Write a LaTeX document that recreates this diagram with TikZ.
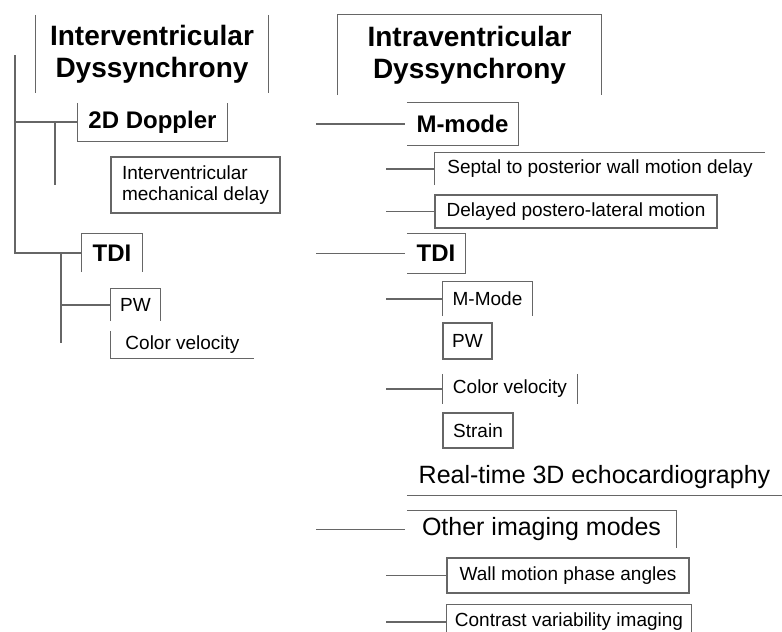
\documentclass[tikz,border=0pt]{standalone}
\usepackage{fontspec}
\setmainfont{Liberation Sans}
\usepackage{tikz}
\usetikzlibrary{positioning}
\tikzset{
  sm/.style={inner sep=0pt, font=\fontsize{19}{21}\selectfont, align=center},
  md/.style={inner sep=0pt, font=\fontsize{24}{28}\selectfont\bfseries, align=center},
  lg/.style={inner sep=0pt, font=\fontsize{25}{30}\selectfont, align=center},
  ttl/.style={inner sep=0pt, font=\fontsize{28}{32}\selectfont\bfseries, align=center},
  sz/.style 2 args={minimum width=#1, minimum height=#2},
  ln/.style={draw=black!60, line width=1.3pt},
  fbox/.style={ln}
}

\begin{document}
\begin{tikzpicture}[x=1pt, y=-1pt]
\useasboundingbox (0,0) rectangle (782,632);
% left tree
\node[ttl, sz={232pt}{78pt}] (titleL) at (152,54) {Interventricular\\Dyssynchrony};
\node[md, sz={149pt}{38pt}] (dopL) at (152.5,122) {2D Doppler};
\node[sm, sz={169pt}{56pt}, align=left, fbox] (mechL) at (195.5,185)
  {Interventricular\\mechanical delay};
\node[md, sz={60pt}{38pt}] (tdiL) at (112,253) {TDI};
\node[sm, sz={49pt}{32pt}] (pwL) at (135.5,305) {PW};
\node[sm, sz={143pt}{27pt}] (cvL) at (182.5,344.5) {Color velocity};
% right tree
\node[ttl, sz={263pt}{80pt}] (titleR) at (469.5,55) {Intraventricular\\Dyssynchrony};
\node[md, sz={111pt}{42pt}] (mmodeR) at (462.5,124) {M-mode};
\node[sm, sz={330pt}{32pt}] (septR) at (600,169) {Septal to posterior wall motion delay};
\node[sm, sz={282pt}{33pt}, fbox] (delayR) at (576,211.5) {Delayed postero-lateral motion};
\node[md, sz={58pt}{39pt}] (tdiR) at (436,253.5) {TDI};
\node[sm, sz={89pt}{34pt}] (mmR) at (487.5,299) {M-Mode};
\node[sm, sz={49pt}{36pt}, fbox] (pwR) at (467.5,341) {PW};
\node[sm, sz={134pt}{30pt}] (cvR) at (510,389) {Color velocity};
\node[sm, sz={70pt}{35pt}, fbox] (strainR) at (478,430.5) {Strain};
\node[lg, sz={375pt}{36pt}] (rt3d) at (594.5,477) {Real-time 3D echocardiography};
\node[lg, sz={269pt}{37pt}] (otherR) at (541.5,529.5) {Other imaging modes};
\node[sm, sz={242pt}{35pt}, fbox] (wallR) at (568,575.5) {Wall motion phase angles};
\node[sm, sz={244pt}{34pt}] (contR) at (569,622) {Contrast variability imaging};

% open box sides
\draw[ln] (titleL.north west) -- (titleL.south west);
\draw[ln] (titleL.north east) -- (titleL.south east);
\draw[ln] (dopL.north west) -- (dopL.south west) -- (dopL.south east) -- (dopL.north east);
\draw[ln] (tdiL.south west) -- (tdiL.north west) -- (tdiL.north east) -- (tdiL.south east);
\draw[ln] (pwL.south west) -- (pwL.north west) -- (pwL.north east) -- (pwL.south east);
\draw[ln] (cvL.north west) -- (cvL.south west) -- (cvL.south east);
\draw[ln] (titleR.south west) -- (titleR.north west) -- (titleR.north east) -- (titleR.south east);
\draw[ln] (mmodeR.north west) -- (mmodeR.north east) -- (mmodeR.south east) -- (mmodeR.south west);
\draw[ln] (septR.south west) -- (septR.north west) -- (septR.north east);
\draw[ln] (tdiR.north west) -- (tdiR.north east) -- (tdiR.south east) -- (tdiR.south west);
\draw[ln] (mmR.south west) -- (mmR.north west) -- (mmR.north east) -- (mmR.south east);
\draw[ln] (cvR.north west) -- (cvR.south west);
\draw[ln] (cvR.north east) -- (cvR.south east);
\draw[ln] (rt3d.south west) -- (rt3d.south east);
\draw[ln] (otherR.north west) -- (otherR.north east) -- (otherR.south east);
\draw[ln] ([yshift=-27pt]contR.north west) -- (contR.north west)
  -- (contR.north east) -- ([yshift=-27pt]contR.north east);

% connectors, left
\coordinate (rootL) at (15,55);
\coordinate (dopBr) at (55,122);
\coordinate (tdiBr) at (61,253);
\draw[ln] (rootL) |- (tdiL.west);
\draw[ln] (rootL |- dopL.west) -- (dopL.west);
\draw[ln] (dopBr) -- ++(0,63);
\draw[ln] (tdiBr) -- ++(0,90);
\draw[ln] (tdiBr |- pwL.west) -- (pwL.west);
% connectors, right
\coordinate (colA) at (316,0);
\coordinate (colB) at (386,0);
\draw[ln] (colA |- mmodeR.west) -- ([xshift=-2pt]mmodeR.west);
\draw[ln] (colA |- tdiR.west) -- ([xshift=-2pt]tdiR.west);
\draw[ln] (colA |- otherR.west) -- ([xshift=-2pt]otherR.west);
\draw[ln] (colB |- septR.west) -- (septR.west);
\draw[ln] (colB |- delayR.west) -- (delayR.west);
\draw[ln] (colB |- mmR.west) -- (mmR.west);
\draw[ln] (colB |- cvR.west) -- (cvR.west);
\draw[ln] (colB |- wallR.west) -- (wallR.west);
\draw[ln] (colB |- contR.west) -- (contR.west);
\end{tikzpicture}
\end{document}
